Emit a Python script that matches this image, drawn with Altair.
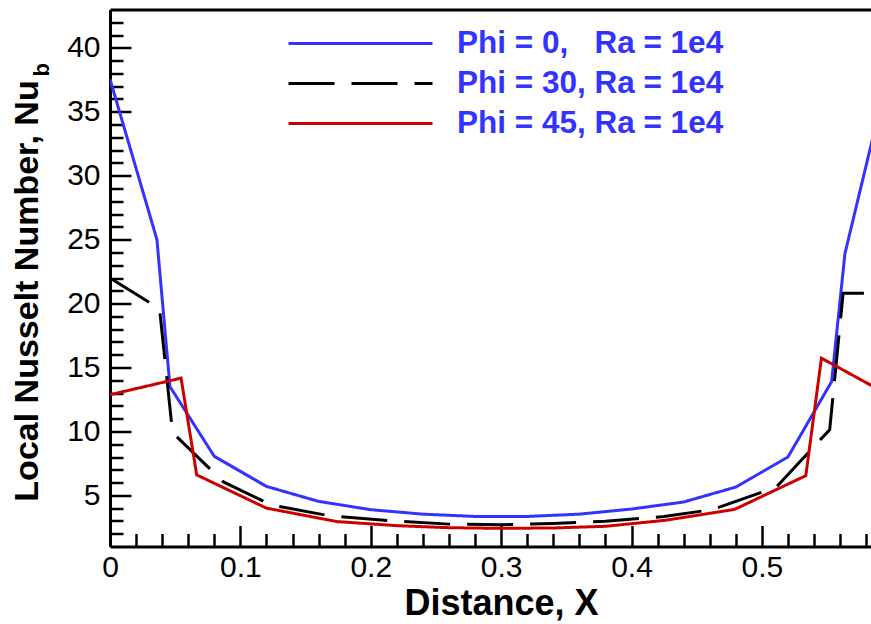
import altair as alt
import pandas as pd

# ---- data ----
series_names = ["Phi = 0,\u00a0\u00a0\u00a0Ra = 1e4", "Phi = 30, Ra = 1e4", "Phi = 45, Ra = 1e4"]
series_colors = ["#3333ff", "#000000", "#cc0000"]
series_dashes = [[1, 0], [46, 17], [1, 0]]

x_phi0 = [0, 0.036, 0.046, 0.08, 0.12, 0.16, 0.2, 0.24, 0.28, 0.32, 0.36, 0.4, 0.44, 0.48, 0.52, 0.5535, 0.5637, 0.6]
nu_phi0 = [37.55, 25.0, 13.5, 8.05, 5.7, 4.53, 3.88, 3.53, 3.35, 3.35, 3.53, 3.93, 4.48, 5.65, 8.0, 13.9, 23.9, 39.3]

x_phi30 = [0, 0.038, 0.048, 0.087, 0.124, 0.169, 0.217, 0.26, 0.3, 0.34, 0.38, 0.425, 0.462, 0.511, 0.552, 0.5623, 0.6]
nu_phi30 = [22.0, 19.6, 9.9, 6.05, 4.24, 3.39, 3.0, 2.75, 2.7, 2.8, 2.97, 3.34, 3.89, 5.64, 10.13, 20.8, 20.8]

x_phi45 = [0, 0.0545, 0.0665, 0.12, 0.174, 0.22, 0.26, 0.3, 0.34, 0.38, 0.426, 0.479, 0.5337, 0.5457, 0.6]
nu_phi45 = [12.87, 14.17, 6.6, 4.0, 2.95, 2.63, 2.47, 2.42, 2.45, 2.58, 3.05, 3.9, 6.54, 15.73, 12.7]

x_major = [0, 0.1, 0.2, 0.3, 0.4, 0.5]
x_minor = [round(0.02 * i, 2) for i in range(1, 30) if i % 5 != 0]
y_major = [5, 10, 15, 20, 25, 30, 35, 40]
y_minor = [v for v in range(2, 43) if v % 5 != 0]

x_domain = [0, 0.5837]
y_domain = [1, 43]

rows = []
for name, xs_, ys_ in zip(series_names, [x_phi0, x_phi30, x_phi45], [nu_phi0, nu_phi30, nu_phi45]):
    for i, (a, b) in enumerate(zip(xs_, ys_)):
        rows.append({"X": a, "Nu": b, "series": name, "idx": i})
df = pd.DataFrame(rows)

FONT = "Liberation Sans"
W, H = 761, 537

xs = alt.Scale(domain=x_domain, nice=False, zero=False)
ys = alt.Scale(domain=y_domain, nice=False, zero=False)

legend = alt.Legend(
    title=None, orient="none", legendX=177, legendY=19,
    symbolType="stroke", symbolSize=20736, symbolStrokeWidth=3,
    labelFont=FONT, labelFontSize=31.5, labelFontWeight="bold", labelColor="#3333ff",
    labelOffset=23, labelLimit=500, clipHeight=30, rowPadding=8, padding=0,
)

# labelled axes: domain lines, tick labels and titles (ticks drawn by other layers)
lines = alt.Chart(df).mark_line(strokeWidth=3, clip=True).encode(
    x=alt.X("X:Q", scale=xs, axis=alt.Axis(
        orient="bottom", values=x_major, format="~g", ticks=False, tickSize=0,
        labelFont=FONT, labelFontSize=30, labelColor="black", labelPadding=6, labelFlush=False,
        labelOverlap=False, domainWidth=3, domainColor="black", grid=False,
        title="Distance, X", titleFont=FONT, titleFontSize=36, titleFontWeight="bold", titleColor="black",
        titleX=391, titleY=68, titleBaseline="alphabetic", titleAlign="center")),
    y=alt.Y("Nu:Q", scale=ys, axis=alt.Axis(
        orient="left", values=y_major, format="~g", ticks=False, tickSize=0,
        labelFont=FONT, labelFontSize=30, labelColor="black", labelPadding=10, labelFlush=False,
        labelOverlap=False, domainWidth=3, domainColor="black", grid=False,
        title="Local Nusselt Number, Nu", titleFont=FONT, titleFontSize=34, titleFontWeight="bold",
        titleColor="black", titleAngle=270, titleX=-73, titleY=281, titleBaseline="alphabetic",
        titleAlign="center")),
    color=alt.Color("series:N", scale=alt.Scale(domain=series_names, range=series_colors), legend=legend),
    strokeDash=alt.StrokeDash("series:N", scale=alt.Scale(domain=series_names, range=series_dashes), legend=legend),
    order="idx:Q",
)

# major ticks pointing inward: axes on the opposite side moved onto the frame
major = alt.Chart(df).mark_point(opacity=0).encode(
    x=alt.X("X:Q", scale=xs, axis=alt.Axis(
        orient="top", offset=-H, values=x_major, tickSize=21, tickWidth=2.5, tickColor="black",
        labels=False, domain=False, grid=False, title=None)),
    y=alt.Y("Nu:Q", scale=ys, axis=alt.Axis(
        orient="right", offset=-W, values=y_major, tickSize=21, tickWidth=2.5, tickColor="black",
        labels=False, domain=False, grid=False, title=None)),
)

minor = alt.Chart(df).mark_point(opacity=0).encode(
    x=alt.X("X:Q", scale=xs, axis=alt.Axis(
        orient="top", offset=-H, values=x_minor, tickSize=13, tickWidth=2.5, tickColor="black",
        labels=False, domain=False, grid=False, title=None)),
    y=alt.Y("Nu:Q", scale=ys, axis=alt.Axis(
        orient="right", offset=-W, values=y_minor, tickSize=13, tickWidth=2.5, tickColor="black",
        labels=False, domain=False, grid=False, title=None)),
)

top = alt.Chart(df).mark_point(opacity=0).encode(
    x=alt.X("X:Q", scale=xs, axis=alt.Axis(
        orient="top", ticks=False, labels=False, domain=True, domainWidth=3, domainColor="black",
        grid=False, title=None)),
    y=alt.Y("Nu:Q", scale=ys, axis=None),
)

sub = alt.Chart(pd.DataFrame({"t": ["b"]})).mark_text(
    angle=270, font=FONT, fontSize=22, fontWeight="bold", color="black",
    align="left", baseline="alphabetic",
).encode(text="t:N", x=alt.value(-61), y=alt.value(67))

chart = alt.layer(lines, major, minor, top, sub).resolve_axis(
    x="independent", y="independent"
).properties(
    width=W, height=H,
    autosize=alt.AutoSizeParams(type="none"),
    padding={"left": 110, "top": 9.5, "right": 0, "bottom": 77.5},
).configure_view(strokeWidth=0)

chart.save("out.html", embed_options={"renderer": "svg", "actions": False})
